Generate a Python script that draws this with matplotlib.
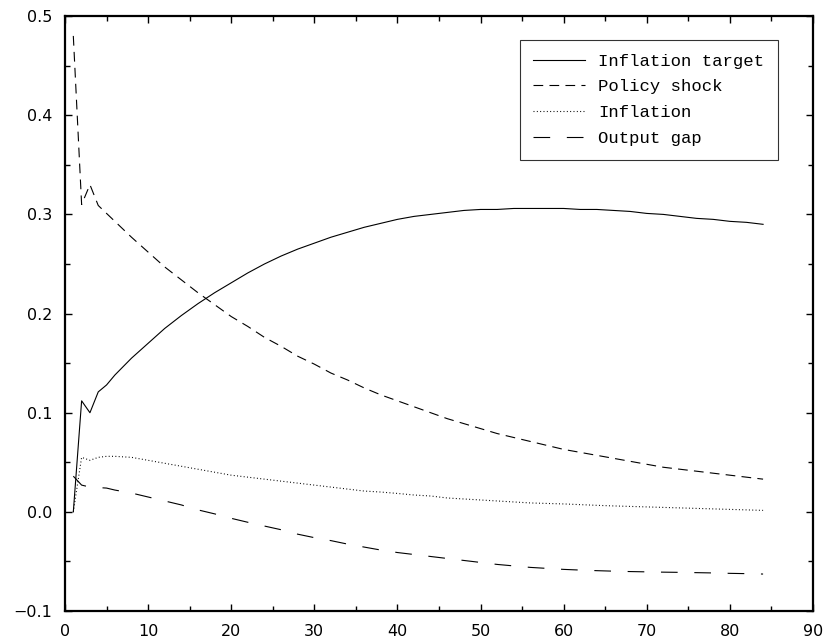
import matplotlib
matplotlib.use("Agg")
import matplotlib.pyplot as plt
from matplotlib.ticker import MultipleLocator

plt.rcParams["lines.scale_dashes"] = False

# quarters after the shock
quarters = [1, 2, 3, 4, 5, 6, 8, 10, 12, 14, 16, 18, 20, 22, 24, 26, 28, 30,
            32, 34, 36, 38, 40, 42, 44, 46, 48, 50, 52, 54, 56, 58, 60, 62,
            64, 66, 68, 70, 72, 74, 76, 78, 80, 82, 84]

inflation_target = [0.0, 0.112, 0.100, 0.121, 0.128, 0.138, 0.155, 0.170,
                    0.185, 0.198, 0.210, 0.221, 0.231, 0.241, 0.250, 0.258,
                    0.265, 0.271, 0.277, 0.282, 0.287, 0.291, 0.295, 0.298,
                    0.300, 0.302, 0.304, 0.305, 0.305, 0.306, 0.306, 0.306,
                    0.306, 0.305, 0.305, 0.304, 0.303, 0.301, 0.300, 0.298,
                    0.296, 0.295, 0.293, 0.292, 0.290]

policy_shock = [0.480, 0.310, 0.330, 0.309, 0.301, 0.293, 0.277, 0.262,
                0.247, 0.234, 0.221, 0.209, 0.197, 0.187, 0.176, 0.167,
                0.157, 0.149, 0.140, 0.133, 0.125, 0.118, 0.112, 0.106,
                0.100, 0.094, 0.089, 0.084, 0.079, 0.075, 0.071, 0.067,
                0.063, 0.060, 0.057, 0.054, 0.051, 0.048, 0.045, 0.043,
                0.041, 0.039, 0.037, 0.035, 0.033]

inflation = [0.0, 0.055, 0.052, 0.055, 0.056, 0.056, 0.055, 0.052, 0.049,
             0.046, 0.043, 0.040, 0.037, 0.035, 0.033, 0.031, 0.029, 0.027,
             0.025, 0.023, 0.021, 0.020, 0.0186, 0.017, 0.016, 0.014, 0.013,
             0.012, 0.011, 0.010, 0.009, 0.0085, 0.008, 0.0073, 0.0066,
             0.006, 0.0055, 0.005, 0.0045, 0.004, 0.0035, 0.003, 0.0025,
             0.002, 0.0015]

output_gap = [0.036, 0.027, 0.025, 0.0245, 0.024, 0.022, 0.019, 0.015,
              0.011, 0.007, 0.002, -0.002, -0.0065, -0.0105, -0.0143,
              -0.018, -0.0225, -0.026, -0.029, -0.0325, -0.0355, -0.0385,
              -0.041, -0.043, -0.045, -0.047, -0.049, -0.051, -0.053,
              -0.0545, -0.056, -0.057, -0.058, -0.0587, -0.0593, -0.0598,
              -0.0602, -0.0605, -0.0608, -0.061, -0.0613, -0.0616, -0.062,
              -0.0623, -0.0627]

fig = plt.figure(figsize=(8.27, 6.44), dpi=100)
ax = fig.add_axes([0.0786, 0.0512, 0.9044, 0.9238])

lw = 0.8
ax.plot(quarters, inflation_target, color="black", lw=lw, label="Inflation target")
ax.plot(quarters, policy_shock, color="black", lw=lw, dashes=(7, 4.5),
        label="Policy shock")
ax.plot(quarters, inflation, color="black", lw=lw, dashes=(0.7, 1.7),
        label="Inflation")
ax.plot(quarters, output_gap, color="black", lw=lw, dashes=(12, 12),
        label="Output gap")

ax.set_xlim(0, 90)
ax.set_ylim(-0.1, 0.5)
ax.xaxis.set_major_locator(MultipleLocator(10))
ax.xaxis.set_minor_locator(MultipleLocator(5))
ax.yaxis.set_major_locator(MultipleLocator(0.1))
ax.yaxis.set_minor_locator(MultipleLocator(0.05))
ax.yaxis.set_major_formatter(plt.FuncFormatter(lambda v, p: f"{v:.1f}".replace("-", "\u2212")))

ax.tick_params(which="both", direction="in", top=True, right=True,
               width=1.0, labelsize=11.5)
ax.tick_params(which="major", length=5)
ax.tick_params(which="minor", length=3.3)
ax.tick_params(axis="y", pad=9)
ax.tick_params(axis="x", pad=9)
for spine in ax.spines.values():
    spine.set_linewidth(1.6)

leg = ax.legend(loc="upper right", bbox_to_anchor=(0.953, 0.960),
                prop={"family": "Liberation Mono", "size": 12.4},
                frameon=True, fancybox=False, edgecolor="black",
                handlelength=3.0, handletextpad=0.75, labelspacing=0.62,
                borderpad=0.8, borderaxespad=0)
leg.get_frame().set_linewidth(0.8)

fig.savefig("out.png", dpi=100)
